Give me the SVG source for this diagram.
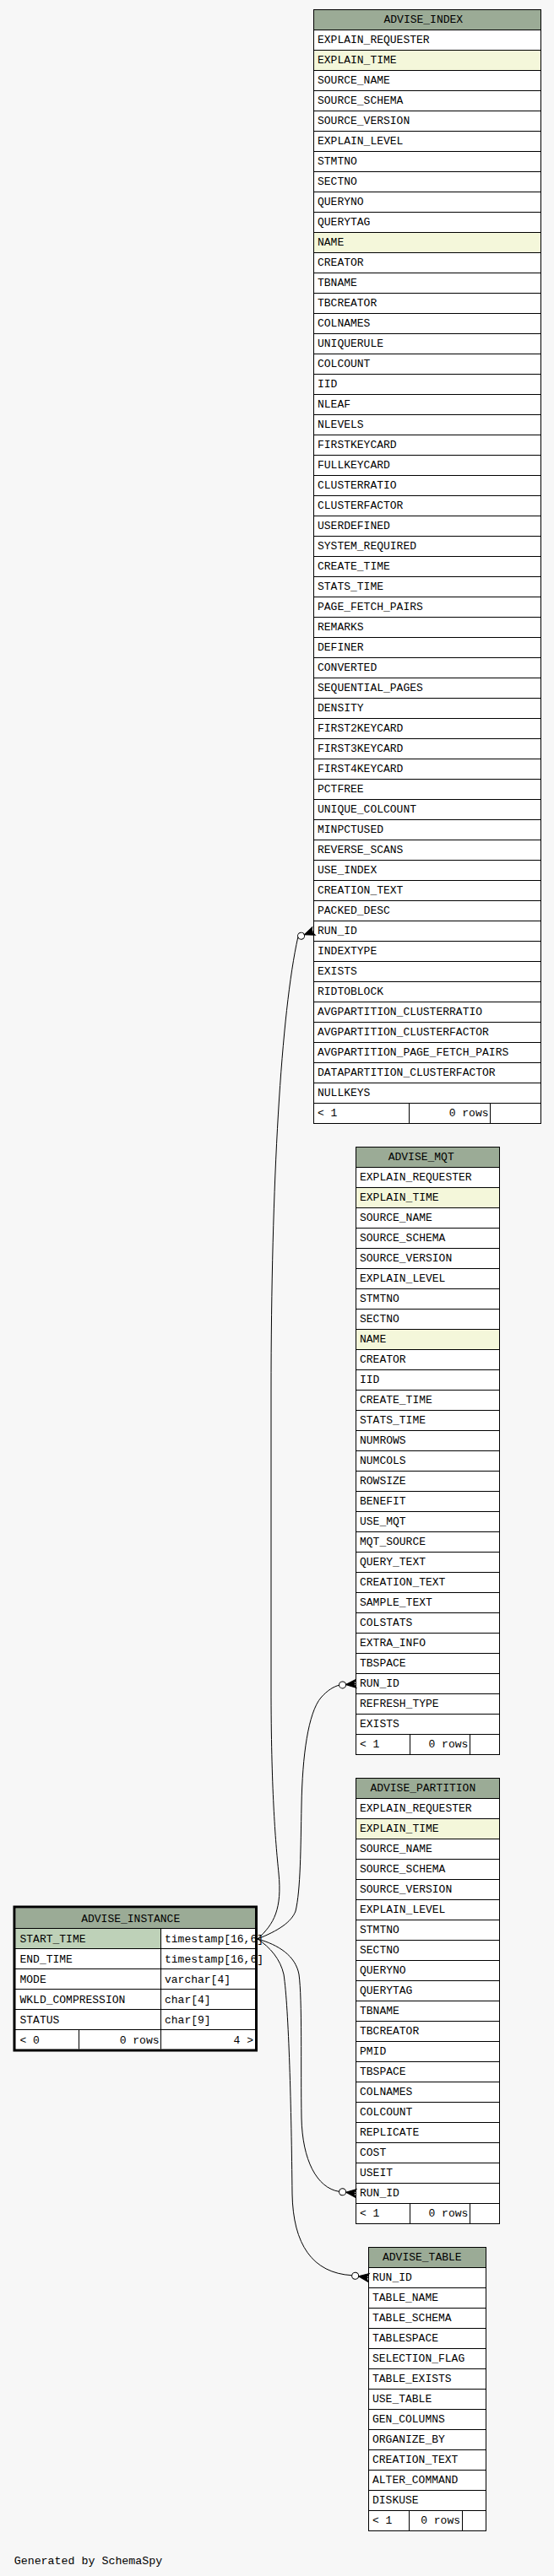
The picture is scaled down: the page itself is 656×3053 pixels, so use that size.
<svg xmlns="http://www.w3.org/2000/svg" width="656" height="3053" viewBox="0 0 656 3053">
<style>
.t{font-family:"Liberation Mono","DejaVu Sans Mono",monospace;font-size:13px;fill:#000}
.h{text-anchor:middle}
.r{text-anchor:end}
.body{fill:#fff}
.hd{fill:#9bab96}
.ix{fill:#f4f7da}
.pk{fill:#bed1b8}
.bd{fill:none;stroke:#000;stroke-width:1}
.rl{stroke:#000;stroke-dasharray:1 23}
.ln{fill:none;stroke:#000;stroke-width:1}
.edge path{fill:none;stroke:#000;stroke-width:1}
</style>
<defs>
<g id="cf">
<path d="M-12,0 L0,-5 L-2.5,0 L0,5 Z M-12,0 H0" fill="#000" stroke="#000" stroke-width="1"/>
<circle cx="-16" cy="0" r="4" fill="#fff" stroke="#000" stroke-width="1"/>
</g>
</defs>
<rect x="0" y="0" width="656" height="3053" fill="#f7f7f7"/>

<g id="advise_index">
<rect class="body" x="371.5" y="11.5" width="269" height="1320"/>
<rect class="hd" x="371.5" y="11.5" width="269" height="24"/>
<rect class="ix" x="371.5" y="59.5" width="269" height="24"/>
<rect class="ix" x="371.5" y="275.5" width="269" height="24"/>
<line class="rl" x1="506" y1="35" x2="506" y2="1308" stroke-width="270"/>
<path class="ln" d="M484.5 1307.5V1331.5M580.5 1307.5V1331.5"/>
<rect class="bd" x="371.5" y="11.5" width="269" height="1320"/>
<text class="t h" x="501.3" y="26.5">ADVISE_INDEX</text>
<text class="t" y="50.5"><tspan x="376">EXPLAIN_REQUESTER</tspan><tspan x="376" dy="24">EXPLAIN_TIME</tspan><tspan x="376" dy="24">SOURCE_NAME</tspan><tspan x="376" dy="24">SOURCE_SCHEMA</tspan><tspan x="376" dy="24">SOURCE_VERSION</tspan><tspan x="376" dy="24">EXPLAIN_LEVEL</tspan><tspan x="376" dy="24">STMTNO</tspan><tspan x="376" dy="24">SECTNO</tspan><tspan x="376" dy="24">QUERYNO</tspan><tspan x="376" dy="24">QUERYTAG</tspan><tspan x="376" dy="24">NAME</tspan><tspan x="376" dy="24">CREATOR</tspan><tspan x="376" dy="24">TBNAME</tspan><tspan x="376" dy="24">TBCREATOR</tspan><tspan x="376" dy="24">COLNAMES</tspan><tspan x="376" dy="24">UNIQUERULE</tspan><tspan x="376" dy="24">COLCOUNT</tspan><tspan x="376" dy="24">IID</tspan><tspan x="376" dy="24">NLEAF</tspan><tspan x="376" dy="24">NLEVELS</tspan><tspan x="376" dy="24">FIRSTKEYCARD</tspan><tspan x="376" dy="24">FULLKEYCARD</tspan><tspan x="376" dy="24">CLUSTERRATIO</tspan><tspan x="376" dy="24">CLUSTERFACTOR</tspan><tspan x="376" dy="24">USERDEFINED</tspan><tspan x="376" dy="24">SYSTEM_REQUIRED</tspan><tspan x="376" dy="24">CREATE_TIME</tspan><tspan x="376" dy="24">STATS_TIME</tspan><tspan x="376" dy="24">PAGE_FETCH_PAIRS</tspan><tspan x="376" dy="24">REMARKS</tspan><tspan x="376" dy="24">DEFINER</tspan><tspan x="376" dy="24">CONVERTED</tspan><tspan x="376" dy="24">SEQUENTIAL_PAGES</tspan><tspan x="376" dy="24">DENSITY</tspan><tspan x="376" dy="24">FIRST2KEYCARD</tspan><tspan x="376" dy="24">FIRST3KEYCARD</tspan><tspan x="376" dy="24">FIRST4KEYCARD</tspan><tspan x="376" dy="24">PCTFREE</tspan><tspan x="376" dy="24">UNIQUE_COLCOUNT</tspan><tspan x="376" dy="24">MINPCTUSED</tspan><tspan x="376" dy="24">REVERSE_SCANS</tspan><tspan x="376" dy="24">USE_INDEX</tspan><tspan x="376" dy="24">CREATION_TEXT</tspan><tspan x="376" dy="24">PACKED_DESC</tspan><tspan x="376" dy="24">RUN_ID</tspan><tspan x="376" dy="24">INDEXTYPE</tspan><tspan x="376" dy="24">EXISTS</tspan><tspan x="376" dy="24">RIDTOBLOCK</tspan><tspan x="376" dy="24">AVGPARTITION_CLUSTERRATIO</tspan><tspan x="376" dy="24">AVGPARTITION_CLUSTERFACTOR</tspan><tspan x="376" dy="24">AVGPARTITION_PAGE_FETCH_PAIRS</tspan><tspan x="376" dy="24">DATAPARTITION_CLUSTERFACTOR</tspan><tspan x="376" dy="24">NULLKEYS</tspan></text>
<text class="t" x="376" y="1322.5">&lt; 1</text>
<text class="t r" x="578.5" y="1322.5">0 rows</text>
</g>

<g id="advise_mqt">
<rect class="body" x="421.5" y="1359.5" width="170" height="720"/>
<rect class="hd" x="421.5" y="1359.5" width="170" height="24"/>
<rect class="ix" x="421.5" y="1407.5" width="170" height="24"/>
<rect class="ix" x="421.5" y="1575.5" width="170" height="24"/>
<line class="rl" x1="506.5" y1="1383" x2="506.5" y2="2056" stroke-width="171"/>
<path class="ln" d="M485.5 2055.5V2079.5M556.5 2055.5V2079.5"/>
<rect class="bd" x="421.5" y="1359.5" width="170" height="720"/>
<text class="t h" x="498.7" y="1374.5">ADVISE_MQT</text>
<text class="t" y="1398.5"><tspan x="426">EXPLAIN_REQUESTER</tspan><tspan x="426" dy="24">EXPLAIN_TIME</tspan><tspan x="426" dy="24">SOURCE_NAME</tspan><tspan x="426" dy="24">SOURCE_SCHEMA</tspan><tspan x="426" dy="24">SOURCE_VERSION</tspan><tspan x="426" dy="24">EXPLAIN_LEVEL</tspan><tspan x="426" dy="24">STMTNO</tspan><tspan x="426" dy="24">SECTNO</tspan><tspan x="426" dy="24">NAME</tspan><tspan x="426" dy="24">CREATOR</tspan><tspan x="426" dy="24">IID</tspan><tspan x="426" dy="24">CREATE_TIME</tspan><tspan x="426" dy="24">STATS_TIME</tspan><tspan x="426" dy="24">NUMROWS</tspan><tspan x="426" dy="24">NUMCOLS</tspan><tspan x="426" dy="24">ROWSIZE</tspan><tspan x="426" dy="24">BENEFIT</tspan><tspan x="426" dy="24">USE_MQT</tspan><tspan x="426" dy="24">MQT_SOURCE</tspan><tspan x="426" dy="24">QUERY_TEXT</tspan><tspan x="426" dy="24">CREATION_TEXT</tspan><tspan x="426" dy="24">SAMPLE_TEXT</tspan><tspan x="426" dy="24">COLSTATS</tspan><tspan x="426" dy="24">EXTRA_INFO</tspan><tspan x="426" dy="24">TBSPACE</tspan><tspan x="426" dy="24">RUN_ID</tspan><tspan x="426" dy="24">REFRESH_TYPE</tspan><tspan x="426" dy="24">EXISTS</tspan></text>
<text class="t" x="426" y="2070.5">&lt; 1</text>
<text class="t r" x="554.3" y="2070.5">0 rows</text>
</g>

<g id="advise_partition">
<rect class="body" x="421.5" y="2107.5" width="170" height="528"/>
<rect class="hd" x="421.5" y="2107.5" width="170" height="24"/>
<rect class="ix" x="421.5" y="2155.5" width="170" height="24"/>
<line class="rl" x1="506.5" y1="2131" x2="506.5" y2="2612" stroke-width="171"/>
<path class="ln" d="M485.5 2611.5V2635.5M556.5 2611.5V2635.5"/>
<rect class="bd" x="421.5" y="2107.5" width="170" height="528"/>
<text class="t h" x="500.8" y="2122.5">ADVISE_PARTITION</text>
<text class="t" y="2146.5"><tspan x="426">EXPLAIN_REQUESTER</tspan><tspan x="426" dy="24">EXPLAIN_TIME</tspan><tspan x="426" dy="24">SOURCE_NAME</tspan><tspan x="426" dy="24">SOURCE_SCHEMA</tspan><tspan x="426" dy="24">SOURCE_VERSION</tspan><tspan x="426" dy="24">EXPLAIN_LEVEL</tspan><tspan x="426" dy="24">STMTNO</tspan><tspan x="426" dy="24">SECTNO</tspan><tspan x="426" dy="24">QUERYNO</tspan><tspan x="426" dy="24">QUERYTAG</tspan><tspan x="426" dy="24">TBNAME</tspan><tspan x="426" dy="24">TBCREATOR</tspan><tspan x="426" dy="24">PMID</tspan><tspan x="426" dy="24">TBSPACE</tspan><tspan x="426" dy="24">COLNAMES</tspan><tspan x="426" dy="24">COLCOUNT</tspan><tspan x="426" dy="24">REPLICATE</tspan><tspan x="426" dy="24">COST</tspan><tspan x="426" dy="24">USEIT</tspan><tspan x="426" dy="24">RUN_ID</tspan></text>
<text class="t" x="426" y="2626.5">&lt; 1</text>
<text class="t r" x="554.3" y="2626.5">0 rows</text>
</g>

<g id="advise_table">
<rect class="body" x="436.5" y="2663.5" width="139" height="336"/>
<rect class="hd" x="436.5" y="2663.5" width="139" height="24"/>
<line class="rl" x1="506" y1="2687" x2="506" y2="2976" stroke-width="140"/>
<path class="ln" d="M484.5 2975.5V2999.5M547.5 2975.5V2999.5"/>
<rect class="bd" x="436.5" y="2663.5" width="139" height="336"/>
<text class="t h" x="499.8" y="2678.5">ADVISE_TABLE</text>
<text class="t" y="2702.5"><tspan x="441">RUN_ID</tspan><tspan x="441" dy="24">TABLE_NAME</tspan><tspan x="441" dy="24">TABLE_SCHEMA</tspan><tspan x="441" dy="24">TABLESPACE</tspan><tspan x="441" dy="24">SELECTION_FLAG</tspan><tspan x="441" dy="24">TABLE_EXISTS</tspan><tspan x="441" dy="24">USE_TABLE</tspan><tspan x="441" dy="24">GEN_COLUMNS</tspan><tspan x="441" dy="24">ORGANIZE_BY</tspan><tspan x="441" dy="24">CREATION_TEXT</tspan><tspan x="441" dy="24">ALTER_COMMAND</tspan><tspan x="441" dy="24">DISKUSE</tspan></text>
<text class="t" x="441" y="2990.5">&lt; 1</text>
<text class="t r" x="545" y="2990.5">0 rows</text>
</g>

<g id="advise_instance">
<rect class="body" x="18.5" y="2261.5" width="283.5" height="167"/>
<rect class="hd" x="18.5" y="2261.5" width="283.5" height="24"/>
<rect class="pk" x="18.5" y="2285.5" width="172" height="24"/>
<line class="rl" x1="160" y1="2285" x2="160" y2="2406" stroke-width="284"/>
<path class="ln" d="M190.5 2285.5V2428.5M93.5 2405.5V2428.5"/>
<rect x="17" y="2260" width="286.5" height="170" fill="none" stroke="#000" stroke-width="3"/>
<text class="t h" x="154.7" y="2277.5">ADVISE_INSTANCE</text>
<text class="t" y="2301.5"><tspan x="23.5">START_TIME</tspan><tspan x="23.5" dy="24">END_TIME</tspan><tspan x="23.5" dy="24">MODE</tspan><tspan x="23.5" dy="24">WKLD_COMPRESSION</tspan><tspan x="23.5" dy="24">STATUS</tspan></text>
<text class="t" y="2301.5"><tspan x="195">timestamp[16,6]</tspan><tspan x="195" dy="24">timestamp[16,6]</tspan><tspan x="195" dy="24">varchar[4]</tspan><tspan x="195" dy="24">char[4]</tspan><tspan x="195" dy="24">char[9]</tspan></text>
<text class="t" x="23.5" y="2421.5">&lt; 0</text>
<text class="t r" x="188.5" y="2421.5">0 rows</text>
<text class="t r" x="300" y="2421.5">4 &gt;</text>
</g>

<g id="connectors" class="edge">
<path d="M305,2298 C325,2280 334,2262 330,2220 C326,2180 321,2120 321,2000 L321,1650 C321,1400 333,1200 352.8,1110.7"/>
<use href="#cf" transform="translate(371.5,1103.5) rotate(-21)"/>
<path d="M305,2298 C330,2288 345,2278 350,2265 C356,2240 356,2190 357,2140 C358,2080 365,2030 380,2012 C388,2003 395,1999 401.6,1997.2"/>
<use href="#cf" transform="translate(421.5,1995.5) rotate(-5)"/>
<path d="M305,2298 C330,2305 350,2318 354,2340 C358,2370 356,2450 357,2510 C358,2560 375,2593 401.6,2597.4"/>
<use href="#cf" transform="translate(421.5,2599.5) rotate(6)"/>
<path d="M305,2298 C320,2308 332,2322 336,2340 C342,2380 345,2500 346,2600 C347,2660 370,2694 416.7,2696.7"/>
<use href="#cf" transform="translate(436.5,2699.5) rotate(8)"/>
</g>

<text class="t" x="16.7" y="3038.5" style="font-size:13.3px">Generated by SchemaSpy</text>
</svg>
